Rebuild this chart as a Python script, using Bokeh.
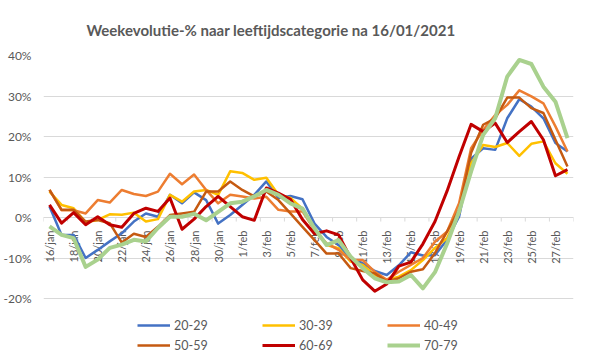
import math
from bokeh.plotting import figure
from bokeh.models import FixedTicker, Legend, LegendItem, Range1d
from bokeh.embed import file_html
from bokeh.resources import INLINE
from bokeh.core.properties import value

# ---------------- data ----------------
dates = ["16/jan", "17/jan", "18/jan", "19/jan", "20/jan", "21/jan", "22/jan", "23/jan",
         "24/jan", "25/jan", "26/jan", "27/jan", "28/jan", "29/jan", "30/jan", "31/jan",
         "1/feb", "2/feb", "3/feb", "4/feb", "5/feb", "6/feb", "7/feb", "8/feb",
         "9/feb", "10/feb", "11/feb", "12/feb", "13/feb", "14/feb", "15/feb", "16/feb",
         "17/feb", "18/feb", "19/feb", "20/feb", "21/feb", "22/feb", "23/feb", "24/feb",
         "25/feb", "26/feb", "27/feb", "28/feb"]

age_20_29 = [2.7, -4.3, -4.3, -10.0, -8.0, -5.9, -3.9, -1.0, 1.0, 0.2, 5.6, 3.5, 6.2, 4.3,
             -1.5, 0.6, 3.1, 5.6, 8.9, 4.8, 5.3, 4.5, -1.5, -4.8, -6.8, -10.2, -11.3, -13.2,
             -14.2, -11.8, -8.6, -9.4, -9.3, -5.5, 0.2, 14.5, 17.1, 16.7, 24.5, 29.2, 27.4,
             24.5, 18.4, 16.3]
age_30_39 = [6.4, 3.1, 2.3, -1.2, -0.6, 0.8, 0.7, 1.2, -1.0, -0.4, 5.6, 3.9, 6.4, 6.8,
             5.6, 11.4, 11.0, 9.3, 9.8, 5.6, 4.8, 2.2, -3.1, -6.8, -7.6, -10.9, -11.7, -14.2,
             -15.4, -14.6, -13.0, -10.5, -7.5, -5.1, 1.0, 13.4, 17.9, 17.4, 18.4, 15.2, 18.2,
             18.8, 13.4, 10.8]
age_40_49 = [6.8, 1.8, 1.8, 1.0, 4.3, 3.7, 6.8, 5.8, 5.3, 6.4, 10.8, 8.2, 10.6, 6.8,
             3.5, 5.6, 5.2, 4.7, 5.1, 1.9, 1.5, 1.5, -3.1, -6.4, -8.0, -10.5, -10.5, -13.4,
             -15.4, -13.4, -11.7, -10.0, -6.0, -3.5, 3.5, 17.1, 21.6, 25.3, 27.8, 31.4, 29.9,
             28.2, 22.5, 16.3]
age_50_59 = [6.8, 1.9, 1.9, -1.0, -0.6, -1.4, -6.2, -4.0, -4.8, -2.3, 0.6, 1.0, 1.4, 6.4,
             6.4, 8.9, 6.8, 5.2, 6.4, 4.3, 1.0, -2.3, -5.6, -8.9, -8.9, -12.5, -13.2, -13.8,
             -15.8, -15.0, -13.4, -12.8, -8.8, -3.5, 1.9, 16.0, 22.9, 24.5, 29.6, 29.6, 27.0,
             25.8, 19.2, 12.6]
age_60_69 = [3.1, -1.4, 1.2, -1.8, 0.2, -1.8, -2.4, 1.0, 2.3, 1.5, 4.8, -2.9, -0.4, 2.7,
             5.2, 2.7, 0.2, -0.7, 7.3, 6.0, 4.5, -0.5, -4.0, -3.3, -4.3, -10.0, -15.4, -18.2,
             -16.4, -12.0, -11.0, -6.5, -1.0, 6.5, 15.0, 23.0, 21.2, 23.3, 18.5, 21.2, 23.7,
             19.2, 10.3, 11.8]
age_70_79 = [-2.2, -4.3, -5.1, -12.2, -10.4, -7.5, -6.7, -5.5, -5.9, -2.6, 0.2, 0.2, 0.9, -0.7,
             1.4, 3.5, 3.9, 5.2, 6.8, 5.6, 3.5, 2.2, -2.7, -6.8, -5.6, -9.7, -12.5, -15.0,
             -16.0, -15.8, -14.2, -17.5, -13.5, -6.5, 1.5, 11.4, 20.4, 24.5, 34.8, 38.9, 37.9,
             32.3, 28.6, 19.6]

series_names = ["20-29", "30-39", "40-49", "50-59", "60-69", "70-79"]
y_ticks = [-20, -10, 0, 10, 20, 30, 40]
y_tick_labels = ["-20%", "-10%", "0%", "10%", "20%", "30%", "40%"]
title_text = "Weekevolutie-% naar leeftijdscategorie  na 16/01/2021"

# ---------------- styling / layout ----------------
colors = ["#4472C4", "#FFC000", "#ED7D31", "#C55A11", "#C00000", "#A9D18E"]
widths = [2.5, 2.5, 2.5, 2.5, 3.0, 4.0]
FONT = "Lato"
TXT = "#595959"
GRID = "#d9d9d9"

W, H = 583, 351
TOP, LEFT, RIGHT = 55, 38, 10
PX_PER_UNIT = 243 / 60.0          # plot scale: 60 %-points over 243 px
y_low = 40 - (H - TOP) / PX_PER_UNIT   # frame reaches canvas bottom so the legend is not clipped

idx = list(range(len(dates)))

p = figure(width=W, height=H, output_backend="svg", toolbar_location=None,
           x_range=Range1d(-0.5, len(dates) - 0.5), y_range=Range1d(y_low, 40),
           min_border_left=LEFT, min_border_right=RIGHT, min_border_top=TOP,
           min_border_bottom=0)
p.outline_line_color = None
p.background_fill_color = "white"
p.border_fill_color = "white"

p.title.text = title_text
p.title.text_font = FONT
p.title.text_font_style = "bold"
p.title.text_font_size = "15px"
p.title.text_color = TXT
p.title.align = "left"
p.title.offset = 43
p.title.standoff = 33

p.xaxis.visible = False
p.xgrid.visible = False
p.ygrid.grid_line_color = GRID
p.ygrid.grid_line_width = 1

p.yaxis.ticker = FixedTicker(ticks=y_ticks)
p.yaxis.major_label_overrides = dict(zip(y_ticks, y_tick_labels))
p.yaxis.axis_line_color = None
p.yaxis.major_tick_line_color = None
p.yaxis.minor_tick_line_color = None
p.yaxis.major_label_standoff = 6
p.yaxis.major_label_text_font = FONT
p.yaxis.major_label_text_font_size = "12px"
p.yaxis.major_label_text_color = TXT

# category axis crossing at 0 %
p.segment(x0=[-0.5], x1=[len(dates) - 0.5], y0=[0], y1=[0], line_color=GRID, line_width=1)
tick_x = [-0.5 + 2 * k for k in range(len(dates) // 2 + 1)]
p.segment(x0=tick_x, x1=tick_x, y0=[0] * len(tick_x), y1=[-1.0] * len(tick_x),
          line_color=GRID, line_width=1)

label_idx = idx[::2]
label_txt = dates[::2]
p.text(x=label_idx, y=[0] * len(label_idx), text=label_txt, angle=math.pi / 2,
       text_align="right", text_baseline="middle", y_offset=13,
       text_font=value(FONT), text_font_size="11px", text_color=TXT)

all_series = [age_20_29, age_30_39, age_40_49, age_50_59, age_60_69, age_70_79]
items = []
for name, vals, c, w in zip(series_names, all_series, colors, widths):
    r = p.line(idx, vals, line_color=c, line_width=w, line_join="round")
    items.append(LegendItem(label=name, renderers=[r]))

# legend grid is filled column by column: order items so rows read 20-29,30-39,40-49 / 50-59,...
ordered = [items[0], items[3], items[1], items[4], items[2], items[5]]
legend = Legend(items=ordered, location=(94, -4), ncols=3, glyph_width=33, glyph_height=20,
                label_height=20, label_width=88, label_standoff=4, spacing=0, padding=0,
                margin=0, border_line_color=None, background_fill_alpha=0,
                label_text_font=FONT, label_text_font_size="12.5px", label_text_color=TXT)
p.add_layout(legend)

open("out.html", "w").write(file_html(p, INLINE))
